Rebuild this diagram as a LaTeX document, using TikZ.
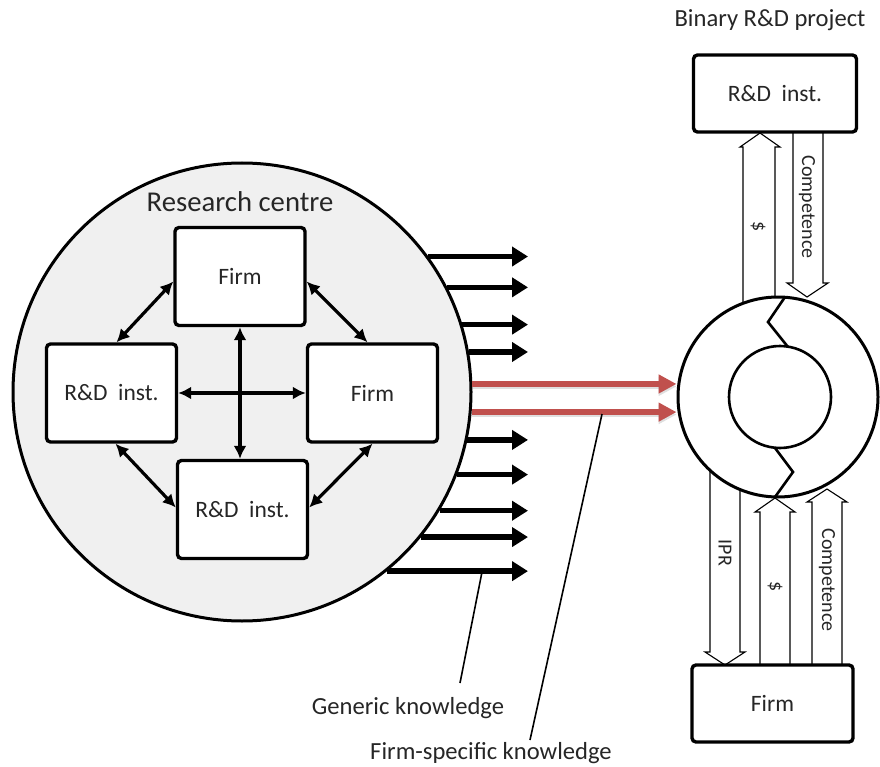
\documentclass[tikz,border=0pt]{standalone}
\usepackage{fontspec}
\setmainfont{Carlito}
\usetikzlibrary{arrows.meta,calc}
\definecolor{myred}{HTML}{C0504D}
\definecolor{bggray}{HTML}{F0F0F0}
\definecolor{txt}{HTML}{262626}
\begin{document}
\begin{tikzpicture}[x=1pt,y=-1pt,
  box/.style={draw, line width=3.4pt, rounded corners=4pt, fill=white, minimum width=130pt, minimum height=98pt, inner sep=0pt, text=txt, font=\fontsize{23.5}{27}\selectfont},
  rbox/.style={draw, line width=3.4pt, rounded corners=4pt, fill=white, minimum width=163pt, minimum height=77pt, inner sep=0pt, text=txt, font=\fontsize{23.5}{27}\selectfont},
  dbl/.style={line width=3.2pt, {Latex[length=13pt,width=13pt]}-{Latex[length=13pt,width=13pt]}},
  genarrow/.style={line width=5.5pt, -{Triangle[length=16pt,width=19pt]}},
  redarrow/.style={line width=5.5pt, draw=myred, -{Triangle[length=18pt,width=18pt]}},
  hollow/.style={line width=1.1pt, line join=miter},
  vlab/.style={rotate=-90, text=txt, font=\fontsize{20}{23}\selectfont},
  ann/.style={text=txt, font=\fontsize{24.6}{28}\selectfont},
  lead/.style={line width=1.6pt}
]
\useasboundingbox (0,0) rectangle (880,767);

% ---------- research centre ----------
\node[circle, draw, line width=3pt, fill=bggray, minimum size=458pt, inner sep=0pt] (rc) at (242,392) {};
\node[text=txt, font=\fontsize{28.7}{32}\selectfont] (rct) at (240,202) {Research centre};

\node[box] (f1) at (240,276.5) {Firm};
\node[box] (r1) at (111.5,393) {R\&D\ \ inst.};
\node[box] (f2) at (372.5,393) {Firm};
\node[box] (r2) at (242.5,509.5) {R\&D\ \ inst.};

\draw[dbl] ($(f1.west)+(0,5)$) -- ($(r1.north)+(5,0)$);
\draw[dbl] ($(f1.east)+(0,5)$) -- ($(f2.north)+(-5,0)$);
\draw[dbl] ($(r1.south)+(4,0)$) -- ($(r2.west)+(0,-2)$);
\draw[dbl] (f2.south) -- ($(r2.east)+(0,-2)$);
\draw[dbl] (f1.south) -- (f1.south |- r2.north);
\draw[dbl] (r1.east) -- (f2.west);

% ---------- binary project ----------
\node[ann] (title) at (770,20) {Binary R\&D project};
\node[rbox] (rtop) at (775,93.5) {R\&D\ \ inst.};
\node[rbox, minimum width=161pt] (fbot) at (772.5,703.5) {Firm};

\node[circle, draw, line width=3pt, fill=white, minimum size=200pt, inner sep=0pt] (ring) at (778,397) {};
\node[circle, draw, line width=2.6pt, minimum size=102pt, inner sep=0pt] (inner) at (780,397) {};
\draw[line width=2.6pt, line join=miter] (785,297) -- (768,322) -- (788,347);
\draw[line width=2.6pt, line join=miter] (775,448) -- (793,472) -- (775,497);

% generic knowledge arrows
\coordinate (tipx) at (528,0);
\foreach \yy in {255,285,322,350,443,475,512,539,570}{
  \pgfmathsetmacro{\ang}{asin((392-\yy)/229)}
  \draw[genarrow] (rc.\ang) -- (rc.\ang -| tipx);
}
% firm-specific knowledge arrows
\foreach \yy in {382,414}{
  \pgfmathsetmacro{\ang}{asin((392-\yy)/229)}
  \draw[line width=5.5pt, draw=gray, opacity=0.25, -{Triangle[length=18pt,width=18pt]}] ($(rc.\ang)+(0,2.5)$) -- ($(rc.\ang -| ring.west)+(0,2.5)$);
  \draw[redarrow] (rc.\ang) -- (rc.\ang -| ring.west);
}

% hollow arrows: upper
\draw[hollow] ({743},{397-sqrt(10000-(743-778)^2)}) -- (743,147) -- (740,147) -- (760,133) -- (780,147) -- (775,147) -- ({775},{397-sqrt(10000-(775-778)^2)});
\node[vlab] (l1) at (758,227) {\$};
\draw[hollow] (793,132) -- (793,283) -- (787,283) -- (807,297) -- (828,283) -- (823,283) -- (823,132);
\node[vlab] (l2) at (807,207) {Competence};

% hollow arrows: lower
\draw[hollow] ({710},{397+sqrt(10000-(710-778)^2)}) -- (710,652) -- (705,652) -- (725,665) -- (745,652) -- (740,652) -- ({740},{397+sqrt(10000-(740-778)^2)});
\node[vlab] (l3) at (725,553) {IPR};
\draw[hollow] (760,665) -- (760,512) -- (755,512) -- (775,498) -- (795,512) -- (790,512) -- (790,665);
\node[vlab] (l4) at (775,587) {\$};
\draw[hollow] (812,665) -- (812,502) -- (807,502) -- (827,489) -- (847,502) -- (842,502) -- (842,665);
\node[vlab] (l5) at (827,580) {Competence};

% annotations
\node[ann] (gk) at (408,708) {Generic knowledge};
\node[ann] (fsk) at (491,753) {Firm-specific knowledge};
\coordinate (gka) at (482,572);
\coordinate (gkb) at (460,683);
\coordinate (fsa) at (602,414);
\coordinate (fsb) at (530,740);
\draw[lead] (gka) -- (gkb);
\draw[lead] (fsa) -- (fsb);
\end{tikzpicture}
\end{document}
